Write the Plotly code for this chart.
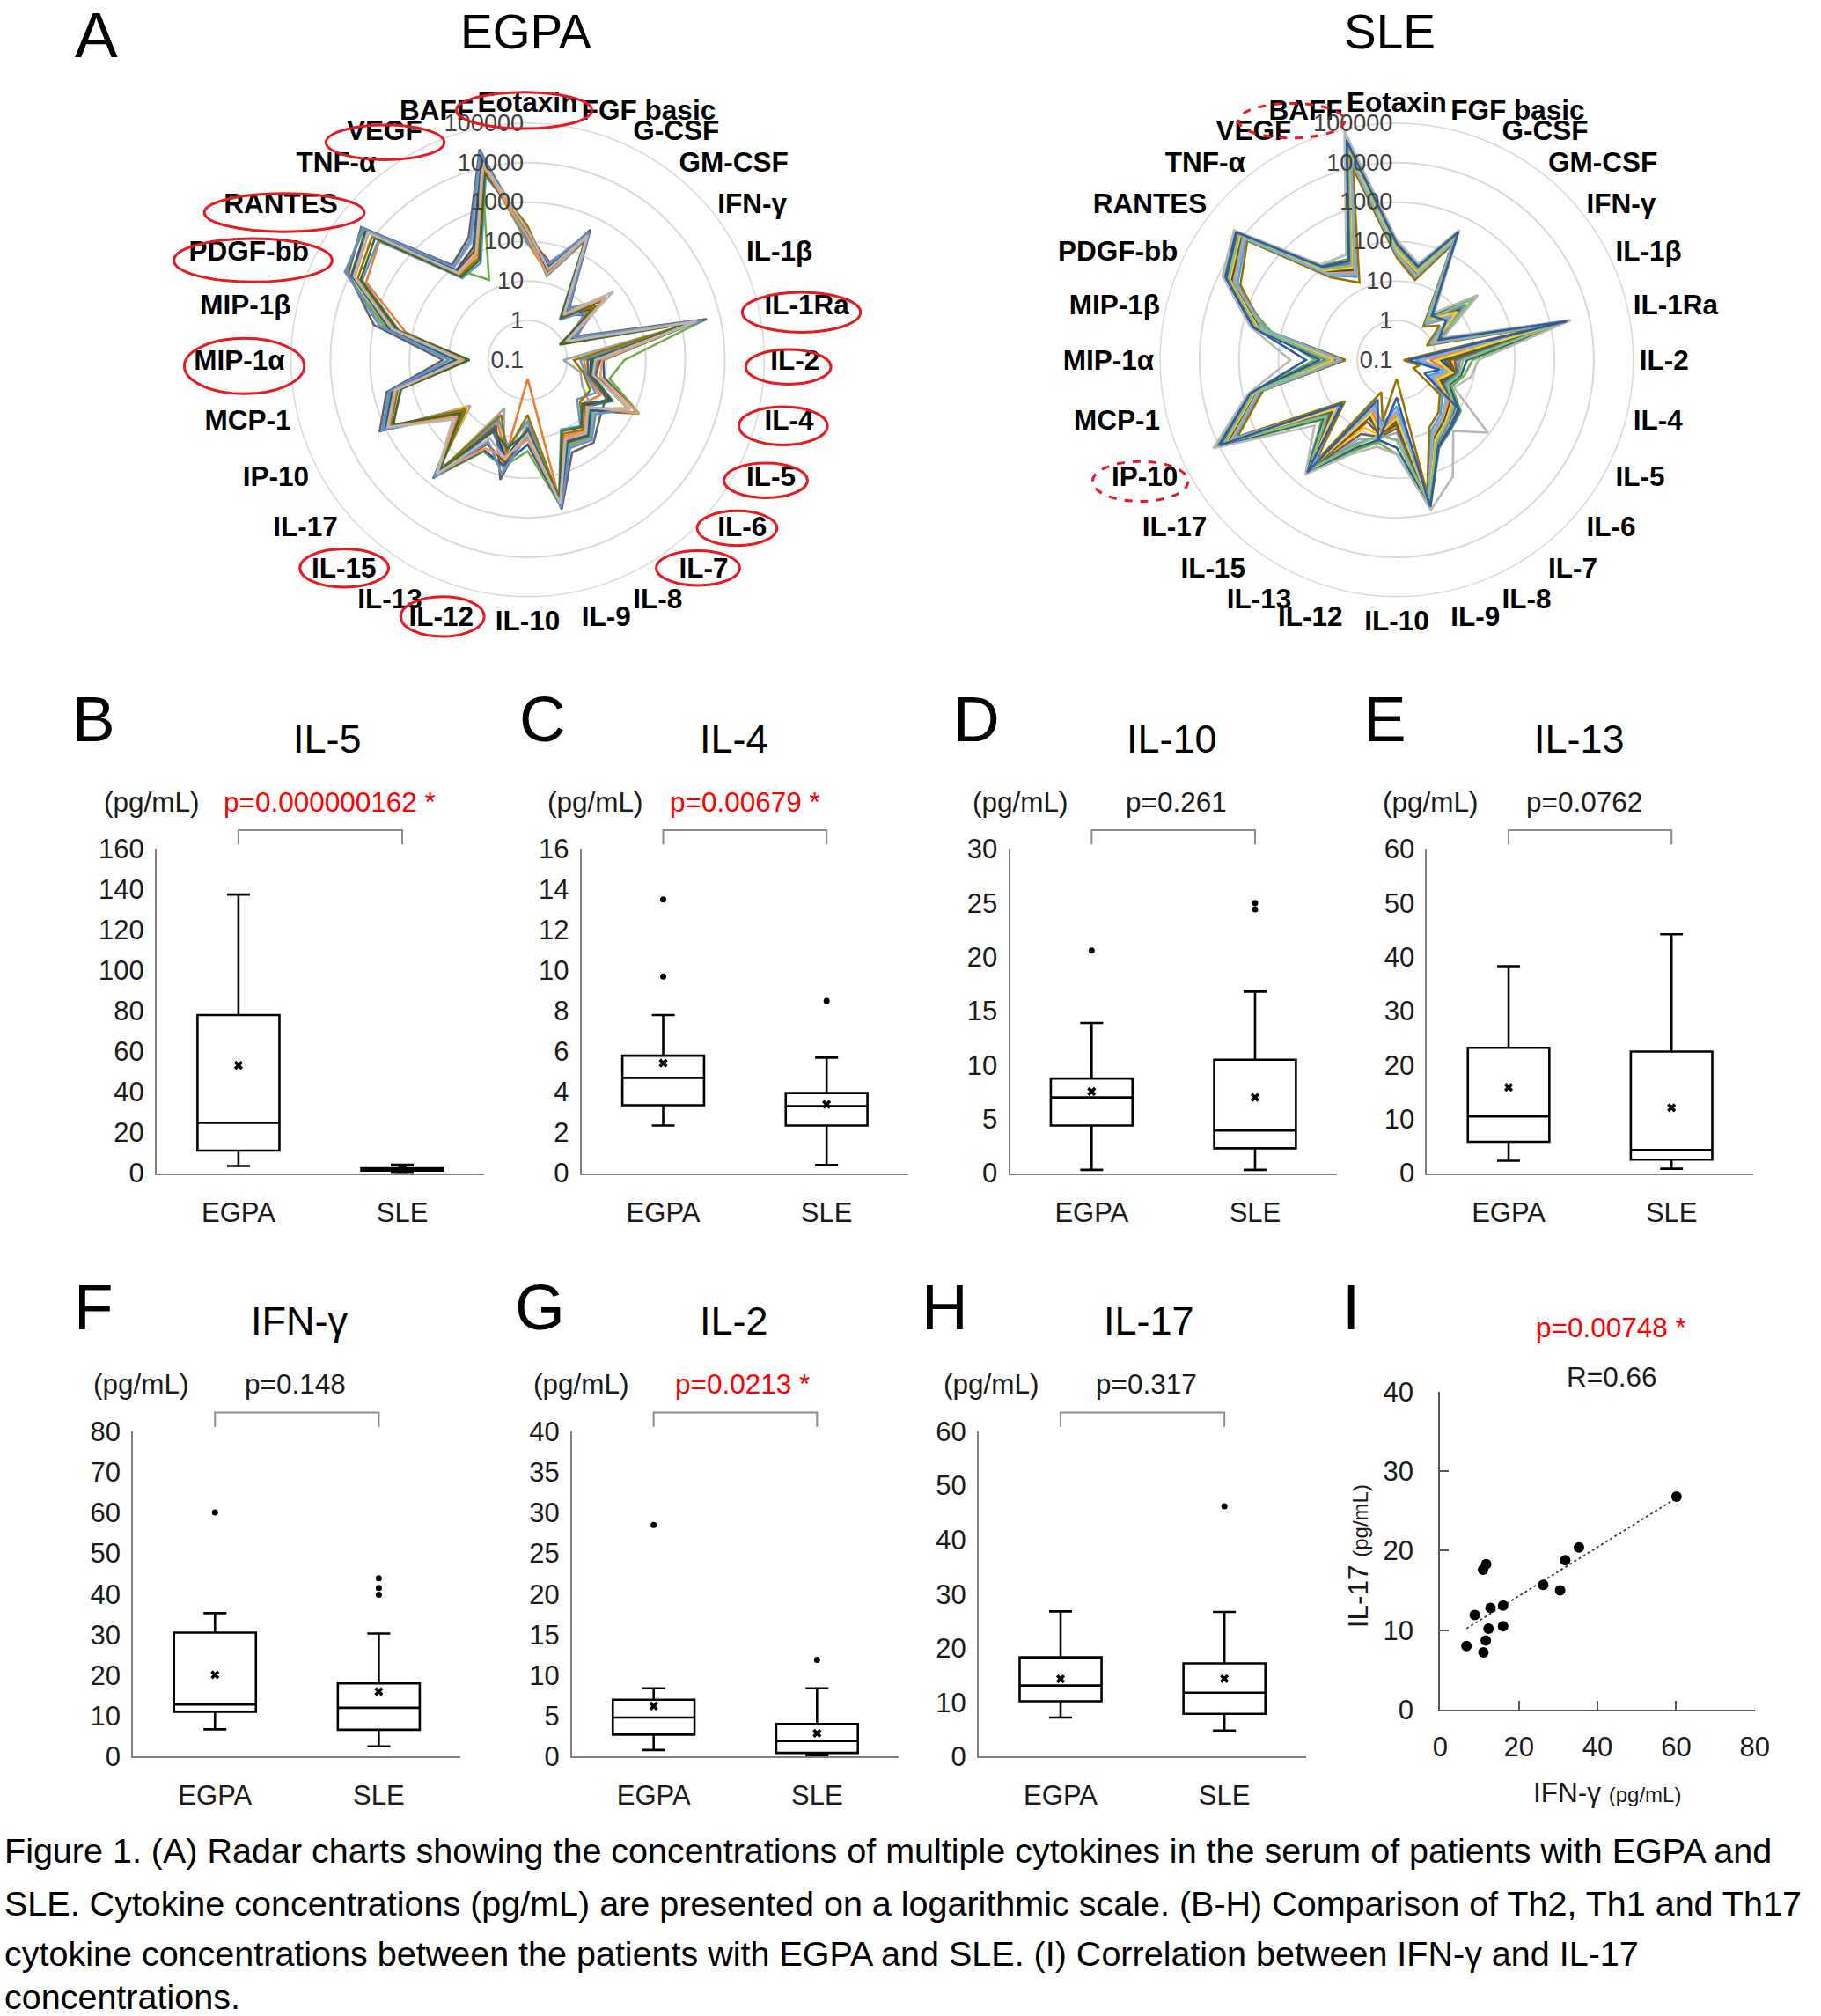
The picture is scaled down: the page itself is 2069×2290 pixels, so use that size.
import numpy as np
import plotly.graph_objects as go

W, H = 2069, 2290
FONT = "Liberation Sans, Arial, sans-serif"

# ---------------- data ----------------
CYTOKINES = ['Eotaxin', 'FGF basic', 'G-CSF', 'GM-CSF', 'IFN-γ', 'IL-1β', 'IL-1Ra', 'IL-2', 'IL-4',
             'IL-5', 'IL-6', 'IL-7', 'IL-8', 'IL-9', 'IL-10', 'IL-12', 'IL-13', 'IL-15', 'IL-17',
             'IP-10', 'MCP-1', 'MIP-1α', 'MIP-1β', 'PDGF-bb', 'RANTES', 'TNF-α', 'VEGF', 'BAFF']
GROUPS = ['EGPA', 'SLE']

# EGPA patients (n=15); IFN-γ / IL-17 pairs are the points of panel I
EGPA_IFNG = [6.7, 8.8, 11.0, 11.6, 10.9, 11.7, 12.3, 12.8, 16.0, 16.0, 26.2, 30.5, 31.8, 35.3, 60.1]
EGPA_IL17 = [8.0, 11.9, 7.2, 8.7, 17.6, 18.3, 10.2, 12.8, 13.1, 10.5, 15.7, 15.0, 18.8, 20.4, 26.8]
EGPA_IL5 = [24.8, 11.1, 3.5, 62.0, 8.2, 137.5, 20.0, 76.0, 16.0, 5.8, 125.0, 23.0, 74.0, 133.0, 78.0]
EGPA_IL4 = [4.7, 3.35, 2.35, 5.6, 3.1, 13.5, 4.2, 5.8, 3.7, 2.8, 9.7, 4.5, 5.3, 7.8, 5.0]
EGPA_IL10 = [7.0, 0.3, 4.4, 8.4, 3.6, 20.6, 6.0, 8.75, 5.2, 2.5, 13.9, 6.6, 8.0, 10.5, 7.5]
EGPA_IL13 = [10.5, 5.8, 2.3, 22.5, 4.8, 38.3, 8.5, 23.2, 7.0, 3.5, 35.0, 9.6, 20.0, 31.0, 16.0]
EGPA_IL2 = [4.8, 2.7, 0.8, 6.6, 2.2, 28.5, 4.0, 7.0, 3.3, 1.5, 8.4, 4.5, 5.9, 7.8, 5.2]

# SLE patients (n=19)
SLE_IFNG = [12.0, 7.5, 16.0, 13.5, 5.2, 41.5, 10.0, 12.5, 14.5, 2.5, 39.8, 11.2, 18.0, 6.6, 43.9, 9.0, 6.0, 30.3, 4.0]
SLE_IL17 = [11.8, 8.8, 15.8, 13.5, 6.8, 26.7, 10.4, 12.6, 14.6, 4.8, 22.5, 11.1, 17.2, 7.9, 46.2, 9.6, 7.4, 19.5, 5.9]
SLE_IL5 = [1.8, 1.3, 2.2, 2.0, 0.8, 3.5, 1.5, 1.9, 2.1, 0.3, 3.0, 1.7, 2.4, 1.2, 4.1, 1.4, 1.0, 2.7, 0.6]
SLE_IL4 = [3.3, 2.6, 3.8, 3.5, 1.8, 5.7, 3.0, 3.4, 3.65, 0.4, 4.8, 3.15, 3.95, 2.35, 8.5, 2.8, 2.1, 4.3, 1.3]
SLE_IL10 = [3.95, 2.7, 7.0, 5.0, 1.5, 24.4, 3.3, 4.4, 5.5, 0.3, 16.8, 3.6, 10.5, 2.3, 25.0, 3.0, 2.0, 11.0, 0.9]
SLE_IL13 = [4.3, 2.9, 17.0, 8.0, 1.8, 37.0, 3.6, 5.5, 12.0, 0.8, 31.0, 4.0, 22.5, 2.5, 44.2, 3.3, 2.2, 26.0, 1.3]
SLE_IL2 = [1.9, 0.7, 3.5, 2.6, 0.3, 8.4, 1.3, 2.2, 3.0, 0.15, 6.0, 1.6, 4.0, 0.45, 11.9, 1.0, 0.4, 4.8, 0.2]

# remaining cytokines of the radar charts (pg/mL), one row per cytokine
OTHER_CYTOKINES = ['Eotaxin', 'FGF basic', 'G-CSF', 'GM-CSF', 'IL-1β', 'IL-1Ra', 'IL-6', 'IL-7', 'IL-8',
                   'IL-9', 'IL-12', 'IL-15', 'IP-10', 'MCP-1', 'MIP-1α', 'MIP-1β', 'PDGF-bb', 'RANTES',
                   'TNF-α', 'VEGF', 'BAFF']
EGPA_OTHER = [
    [120, 95, 180, 140, 210, 85, 160, 130, 110, 250, 150, 175, 100, 135, 190],
    [22, 18, 30, 25, 15, 28, 20, 35, 24, 19, 26, 21, 33, 17, 23],
    [300, 260, 420, 350, 220, 380, 290, 310, 460, 270, 330, 240, 400, 280, 320],
    [3.0, 2.4, 4.2, 3.5, 2.0, 3.8, 2.8, 3.2, 5.0, 2.6, 3.4, 2.2, 4.5, 2.9, 3.1],
    [1.3, 1.0, 1.8, 1.5, 0.9, 1.6, 1.2, 1.4, 2.4, 1.1, 1.5, 0.8, 2.0, 1.2, 1.3],
    [2600, 2100, 3800, 3000, 1700, 4200, 2400, 2700, 4600, 2000, 2900, 1500, 3500, 2300, 2500],
    [8, 6, 14, 10, 4, 12, 7, 9, 22, 5, 11, 6, 16, 8, 9],
    [25, 20, 38, 30, 14, 33, 22, 27, 48, 18, 29, 15, 40, 21, 24],
    [18, 14, 28, 22, 9, 25, 16, 19, 40, 12, 21, 10, 30, 15, 17],
    [560, 480, 700, 620, 380, 650, 520, 590, 760, 450, 600, 400, 680, 500, 540],
    [40, 30, 70, 50, 18, 60, 35, 45, 130, 25, 55, 20, 90, 32, 38],
    [520, 450, 650, 580, 350, 620, 480, 540, 700, 420, 560, 380, 640, 470, 500],
    [900, 780, 1200, 1000, 650, 1100, 850, 950, 1450, 720, 1000, 600, 1250, 820, 880],
    [300, 260, 420, 350, 190, 380, 280, 320, 470, 240, 330, 200, 400, 270, 290],
    [5, 4, 9, 6, 3, 7, 4.5, 5.5, 14, 3.5, 6.5, 3, 10, 4.2, 5],
    [350, 150, 600, 420, 220, 500, 330, 380, 1000, 260, 400, 240, 700, 310, 340],
    [8000, 3500, 12000, 9500, 4500, 14000, 7500, 8500, 11000, 6000, 9000, 5000, 13000, 7200, 7800],
    [16000, 6500, 22000, 18000, 7000, 20000, 15000, 17000, 25000, 11000, 18000, 9000, 23000, 14500, 15500],
    [70, 60, 100, 80, 45, 90, 65, 75, 120, 55, 80, 50, 105, 62, 68],
    [110, 90, 200, 140, 55, 18, 100, 120, 280, 75, 150, 65, 230, 95, 105],
    [15000, 12000, 24000, 18000, 6000, 21000, 13000, 16000, 30000, 9000, 17000, 7500, 26000, 11000, 14000],
]
SLE_OTHER = [
    [60, 50, 80, 70, 45, 95, 55, 65, 75, 40, 85, 58, 68, 52, 110, 62, 48, 72, 90],
    [20, 17, 25, 22, 14, 28, 18, 21, 24, 12, 26, 19, 23, 16, 32, 20, 15, 22, 27],
    [300, 250, 380, 330, 210, 420, 270, 310, 350, 180, 400, 290, 320, 240, 460, 300, 230, 340, 390],
    [2.0, 1.7, 2.6, 2.2, 1.4, 3.0, 1.8, 2.1, 2.4, 1.2, 2.8, 1.9, 2.3, 1.6, 3.4, 2.0, 1.5, 2.2, 2.7],
    [1.2, 1.0, 1.5, 1.3, 0.8, 1.8, 1.1, 1.2, 1.4, 0.7, 1.6, 1.1, 1.3, 0.9, 2.0, 1.2, 0.9, 1.3, 1.5],
    [2000, 1700, 2600, 2200, 1300, 3000, 1800, 2100, 2400, 1100, 2800, 1900, 2300, 1600, 3400, 2000, 1500, 2200, 2700],
    [6, 5, 9, 7, 3, 12, 5.5, 6.5, 8, 2.5, 10, 6, 7.5, 4.5, 90, 6, 4, 7, 11],
    [10, 8, 14, 11, 6, 17, 9, 10.5, 12, 5, 15, 9.5, 11.5, 7.5, 20, 10, 7, 11, 16],
    [18, 15, 25, 20, 10, 30, 16, 19, 22, 8, 27, 17, 21, 13, 190, 18, 12, 20, 28],
    [500, 430, 620, 540, 350, 700, 460, 510, 580, 300, 660, 480, 550, 400, 800, 500, 380, 540, 640],
    [8, 6.5, 11, 9, 5, 14, 7, 8.5, 10, 4, 12, 7.5, 9.5, 6, 18, 8, 5.5, 9, 13],
    [350, 300, 430, 380, 240, 480, 320, 360, 400, 200, 450, 330, 390, 280, 520, 350, 260, 380, 440],
    [6500, 5000, 9000, 7500, 3500, 12000, 5500, 7000, 8000, 3000, 10000, 6000, 7800, 4500, 14500, 6500, 4000, 7200, 9500],
    [500, 420, 620, 540, 330, 700, 460, 510, 580, 300, 660, 480, 550, 400, 750, 500, 380, 540, 640],
    [4, 3, 7, 5, 2, 12, 3.5, 4.5, 6, 2, 9, 3.8, 5.5, 2.8, 50, 4, 2.5, 5, 20],
    [400, 330, 520, 450, 250, 190, 360, 420, 480, 300, 560, 380, 460, 300, 650, 400, 280, 440, 540],
    [5000, 4200, 6200, 5400, 3000, 7000, 4500, 5100, 5800, 2500, 6600, 4800, 5500, 3800, 8000, 5000, 3500, 5400, 6400],
    [12000, 10000, 15000, 13000, 8000, 17000, 11000, 12500, 14000, 7000, 16000, 11500, 13500, 9500, 19000, 12000, 9000, 13000, 15500],
    [80, 70, 100, 88, 55, 115, 75, 82, 95, 48, 108, 78, 90, 65, 125, 80, 60, 88, 105],
    [40, 32, 55, 45, 22, 70, 35, 42, 50, 15, 62, 38, 48, 28, 90, 40, 25, 45, 60],
    [30000, 22000, 45000, 35000, 14000, 60000, 25000, 32000, 40000, 10000, 52000, 28000, 38000, 18000, 90000, 30000, 16000, 36000, 48000],
]

RADIAL_TICKS = [0.1, 1, 10, 100, 1000, 10000, 100000]
RADIAL_TICKTEXT = ['0.1', '1', '10', '100', '1000', '10000', '100000']

# box panels B-H
PANEL_LETTERS = ['B', 'C', 'D', 'E', 'F', 'G', 'H']
PANEL_TITLES = ['IL-5', 'IL-4', 'IL-10', 'IL-13', 'IFN-γ', 'IL-2', 'IL-17']
PANEL_EGPA = [EGPA_IL5, EGPA_IL4, EGPA_IL10, EGPA_IL13, EGPA_IFNG, EGPA_IL2, EGPA_IL17]
PANEL_SLE = [SLE_IL5, SLE_IL4, SLE_IL10, SLE_IL13, SLE_IFNG, SLE_IL2, SLE_IL17]
P_TEXT = ['p=0.000000162 *', 'p=0.00679 *', 'p=0.261', 'p=0.0762', 'p=0.148', 'p=0.0213 *', 'p=0.317']
P_SIGNIF = [True, True, False, False, False, True, False]
Y_MAX = [160, 16, 30, 60, 80, 40, 60]
Y_STEP = [20, 2, 5, 10, 10, 5, 10]

SCATTER_P = 'p=0.00748 *'
SCATTER_R = 'R=0.66'

CAPTION = [
    "Figure 1. (A) Radar charts showing the concentrations of multiple cytokines in the serum of patients with EGPA and",
    "SLE. Cytokine concentrations (pg/mL) are presented on a logarithmic scale. (B-H) Comparison of Th2, Th1 and Th17",
    "cytokine concentrations between the patients with EGPA and SLE. (I) Correlation between IFN-γ and IL-17",
    "concentrations.",
]

COLORS = ['#4472C4', '#ED7D31', '#A5A5A5', '#FFC000', '#5B9BD5', '#70AD47', '#264478', '#9E480E',
          '#636363', '#997300', '#255E91', '#43682B', '#698ED0', '#F1975A', '#B7B7B7', '#FFCD33',
          '#7CAFDD', '#8CC168', '#335AA1']


def px_x(x):
    return x / W


def px_y(y):
    return 1 - y / H


def note(text, x, y, size, color='black', **kw):
    d = dict(text=text, x=px_x(x), y=px_y(y), xref='paper', yref='paper', showarrow=False,
             xanchor='center', yanchor='middle', font=dict(family=FONT, size=size, color=color))
    d.update(kw)
    return d


fig = go.Figure()

# ---------------- radar charts ----------------
box_map = {
    'EGPA': {'IFN-γ': EGPA_IFNG, 'IL-17': EGPA_IL17, 'IL-5': EGPA_IL5, 'IL-4': EGPA_IL4,
             'IL-10': EGPA_IL10, 'IL-13': EGPA_IL13, 'IL-2': EGPA_IL2},
    'SLE': {'IFN-γ': SLE_IFNG, 'IL-17': SLE_IL17, 'IL-5': SLE_IL5, 'IL-4': SLE_IL4,
            'IL-10': SLE_IL10, 'IL-13': SLE_IL13, 'IL-2': SLE_IL2},
}
other_map = {'EGPA': EGPA_OTHER, 'SLE': SLE_OTHER}

for gi, g in enumerate(GROUPS):
    levels = dict(zip(OTHER_CYTOKINES, other_map[g]))
    levels.update(box_map[g])
    n = len(levels['IL-5'])
    for i in range(n):
        r = [levels[c][i] for c in CYTOKINES]
        fig.add_trace(go.Scatterpolar(
            r=r + [r[0]], theta=CYTOKINES + [CYTOKINES[0]], mode='lines',
            line=dict(color=COLORS[i % len(COLORS)], width=2.6),
            subplot='polar' if gi == 0 else 'polar2', showlegend=False, hoverinfo='skip'))


def polar_layout(cx, cy=398, R=273):
    return dict(
        domain=dict(x=[px_x(cx - R), px_x(cx + R)], y=[px_y(cy + R), px_y(cy - R)]),
        bgcolor='white',
        angularaxis=dict(rotation=90, direction='clockwise', type='category',
                         categoryarray=CYTOKINES, showgrid=False, showline=True,
                         linecolor='#d9d9d9', linewidth=1.5, ticks='',
                         tickfont=dict(family=FONT, size=31.5, color='black', weight='bold')),
        radialaxis=dict(type='log', range=[-1, 5], angle=90, tickangle=90, side='counterclockwise',
                        showline=False, ticks='', gridcolor='#d9d9d9', gridwidth=1.5,
                        tickvals=RADIAL_TICKS, ticktext=RADIAL_TICKTEXT,
                        tickfont=dict(family=FONT, size=27, color='#404040')),
    )


# ---------------- box plots ----------------
ROW1_X = [(171, 548), (660, 1036), (1153, 1529), (1633, 2008)]
ROW2_X = [(144, 521), (649, 1025), (1117, 1494)]
ROW1_Y = (962, 1336)
ROW2_Y = (1634, 2009)
LETTER_X = [99, 615, 1114, 1584, 99, 612, 1078]
TITLE_X = [368, 835, 1339, 1808, 335, 835, 1313]
UNIT_X = [166, 676, 1165, 1637, 153, 660, 1132]
PVAL_X = [370, 848, 1344, 1814, 331, 845, 1310]
ROW_LETTER_Y = (812, 1490)
ROW_TITLE_Y = (835, 1507)
ROW_UNIT_Y = (908, 1579)

layout_axes = {}
annotations = []
shapes = []

for k in range(7):
    ax = k + 1
    row = 0 if k < 4 else 1
    xs = ROW1_X[k] if row == 0 else ROW2_X[k - 4]
    ys = ROW1_Y if row == 0 else ROW2_Y
    xname = 'x' if ax == 1 else f'x{ax}'
    yname = 'y' if ax == 1 else f'y{ax}'
    for gname, vals in zip(GROUPS, [PANEL_EGPA[k], PANEL_SLE[k]]):
        fig.add_trace(go.Box(
            y=vals, x=[gname] * len(vals), xaxis=xname, yaxis=yname,
            quartilemethod='exclusive', boxpoints='outliers', width=0.5, whiskerwidth=0.28,
            fillcolor='white', line=dict(color='black', width=2.6),
            marker=dict(color='black', size=7, symbol='circle'),
            showlegend=False, hoverinfo='skip'))
    fig.add_trace(go.Scatter(
        x=GROUPS, y=[float(np.mean(PANEL_EGPA[k])), float(np.mean(PANEL_SLE[k]))],
        xaxis=xname, yaxis=yname, mode='markers',
        marker=dict(symbol='x', size=9, color='black'), showlegend=False, hoverinfo='skip'))

    layout_axes['xaxis' if ax == 1 else f'xaxis{ax}'] = dict(
        domain=[px_x(xs[0]), px_x(xs[1])], anchor=yname, type='category', categoryarray=GROUPS,
        range=[-0.5, 1.5], showline=True, linecolor='#808080', linewidth=2, ticks='',
        showgrid=False, zeroline=False, ticklabelstandoff=16,
        tickfont=dict(family=FONT, size=31, color='#1a1a1a'))
    layout_axes['yaxis' if ax == 1 else f'yaxis{ax}'] = dict(
        domain=[px_y(ys[1]), px_y(ys[0])], anchor=xname, range=[0, Y_MAX[k]], dtick=Y_STEP[k],
        showline=True, linecolor='#808080', linewidth=2, ticks='', showgrid=False,
        zeroline=False, ticklabelstandoff=6, tickfont=dict(family=FONT, size=31, color='#1a1a1a'))

    # bracket over the two groups
    shapes.append(dict(type='path', xref=f'{xname} domain', yref=f'{yname} domain',
                       path='M 0.25,1.014 L 0.25,1.058 L 0.75,1.058 L 0.75,1.014',
                       line=dict(color='#8c8c8c', width=2)))

    annotations += [
        note(PANEL_LETTERS[k], LETTER_X[k], ROW_LETTER_Y[row], 73),
        note(PANEL_TITLES[k], TITLE_X[k], ROW_TITLE_Y[row], 45),
        note('(pg/mL)', UNIT_X[k], ROW_UNIT_Y[row], 31.5, '#1a1a1a'),
        note(P_TEXT[k], PVAL_X[k], ROW_UNIT_Y[row], 31.5, '#ff0000' if P_SIGNIF[k] else '#1a1a1a'),
    ]

# ---------------- scatter (panel I) ----------------
slope, intercept = np.polyfit(EGPA_IFNG, EGPA_IL17, 1)
xfit = np.array([min(EGPA_IFNG), max(EGPA_IFNG)])
fig.add_trace(go.Scatter(x=xfit, y=slope * xfit + intercept, xaxis='x8', yaxis='y8', mode='lines',
                         line=dict(color='#404040', width=1.8, dash='dot'), showlegend=False,
                         hoverinfo='skip'))
fig.add_trace(go.Scatter(x=EGPA_IFNG, y=EGPA_IL17, xaxis='x8', yaxis='y8', mode='markers',
                         marker=dict(color='black', size=12), showlegend=False, hoverinfo='skip'))
layout_axes['xaxis8'] = dict(domain=[px_x(1648), px_x(2010)], anchor='y8', range=[0, 80], dtick=20,
                             showline=True, linecolor='#595959', linewidth=2, ticks='inside',
                             ticklen=10, tickcolor='#595959', tickwidth=2, showgrid=False,
                             zeroline=False, ticklabelstandoff=14,
                             tickfont=dict(family=FONT, size=31, color='#1a1a1a'))
layout_axes['yaxis8'] = dict(domain=[px_y(1955), px_y(1588)], anchor='x8', range=[0, 40], dtick=10,
                             showline=True, linecolor='#595959', linewidth=2, ticks='inside',
                             ticklen=10, tickcolor='#595959', tickwidth=2, showgrid=False,
                             zeroline=False, ticklabelstandoff=22,
                             tickfont=dict(family=FONT, size=31, color='#1a1a1a'))
annotations += [
    note('I', 1545, 1490, 73),
    note(SCATTER_P, 1845, 1514, 31.5, '#ff0000'),
    note(SCATTER_R, 1845, 1571, 31.5, '#1a1a1a'),
    note('IL-17 <span style="font-size:24px">(pg/mL)</span>', 1553, 1778, 31.5, '#1a1a1a', textangle=-90),
    note('IFN-γ <span style="font-size:24px">(pg/mL)</span>', 1840, 2050, 31.5, '#1a1a1a'),
]

# ---------------- radar titles & highlight ellipses ----------------
annotations += [
    note('A', 102, 23, 73),
    note('EGPA', 596, 19, 55),
    note('SLE', 1590, 19, 55),
]
# (center x, center y, half width, half height) in pixels
EGPA_RINGS = [(594, 110, 78, 21), (434, 147, 68, 20), (318, 228, 92, 22), (282, 283, 91, 25),
              (272, 405, 69, 32), (387, 638, 51, 22), (500, 694, 48, 23), (913, 343, 68, 23),
              (898, 406, 49, 20), (892, 474, 51, 22), (872, 537, 48, 20), (839, 592, 46, 20),
              (794, 638, 48, 20)]
SLE_RINGS = [(1477, 122, 61, 20), (1303, 538, 55, 23)]
for rings, dash in ((EGPA_RINGS, 'solid'), (SLE_RINGS, 'dash')):
    for (cxr, cyr, hw, hh) in rings:
        shapes.append(dict(type='circle', xref='paper', yref='paper',
                           x0=px_x(cxr - hw), x1=px_x(cxr + hw),
                           y0=px_y(cyr + hh), y1=px_y(cyr - hh),
                           line=dict(color='#e8191f', width=3, dash=dash)))

# ---------------- caption ----------------
for i, line in enumerate(CAPTION):
    annotations.append(note(line, -6, [2117, 2178, 2236, 2286][i], 39.5, xanchor='left'))

fig.update_layout(
    width=W, height=H, margin=dict(l=0, r=0, t=0, b=0),
    paper_bgcolor='white', plot_bgcolor='white', showlegend=False,
    font=dict(family=FONT, color='black'),
    polar=polar_layout(598), polar2=polar_layout(1598),
    annotations=annotations, shapes=shapes, **layout_axes)

PAGE_FIX = (
    "document.documentElement.style.margin='0';"
    "document.body.style.margin='0';"
    "document.documentElement.style.overflow='hidden';"
    "document.body.style.overflow='hidden';"
    "var gd=document.getElementsByClassName('plotly-graph-div')[0];"
    "gd.style.position='absolute';gd.style.left='0px';gd.style.top='0px';"
)
fig.write_html("out.html", config={'displayModeBar': False}, post_script=PAGE_FIX)
